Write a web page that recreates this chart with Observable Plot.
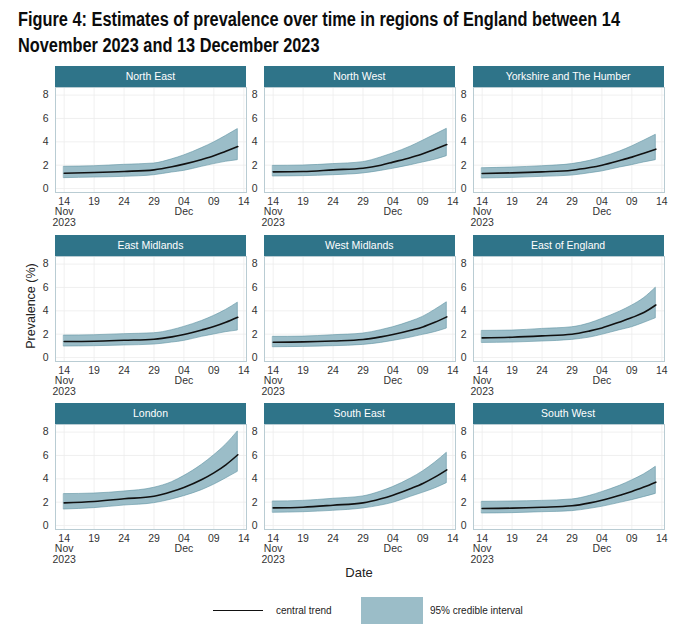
<!DOCTYPE html>
<html>
<head>
<meta charset="utf-8">
<script src="https://cdn.jsdelivr.net/npm/d3@7"></script>
<script src="https://cdn.jsdelivr.net/npm/@observablehq/plot@0.6"></script>
<style>
  html, body { margin: 0; padding: 0; background: #fff; }
  #wrap { position: relative; width: 680px; height: 634px; overflow: hidden; font-family: "Liberation Sans", Arial, sans-serif; }
  #title { position: absolute; left: 18px; top: 6px; font-family: "Liberation Sans", Arial, sans-serif; font-weight: bold; font-size: 20px; line-height: 26px; color: #0b0c0c; white-space: nowrap; transform-origin: 0 0; }
  #title span { display: inline-block; }
  .strip { position: absolute; height: 21px; background: #2f7489; color: #fff; font-size: 10.5px; line-height: 21px; text-align: center; }
  .panel { position: absolute; }
  .lbl { position: absolute; color: #222; white-space: nowrap; }
</style>
</head>
<body>
<div id="wrap">
  <div id="title"><span id="t1">Figure 4: Estimates of prevalence over time in regions of England between 14</span><br><span id="t2">November 2023 and 13 December 2023</span></div>
</div>
<script>
// ---- data ----
const regions = ["North East","North West","Yorkshire and The Humber","East Midlands","West Midlands","East of England","London","South East","South West"];
const dates = ["2023-11-14","2023-11-19","2023-11-24","2023-11-29","2023-12-02","2023-12-04","2023-12-07","2023-12-09","2023-12-11","2023-12-13"];

const northEastMid   = [1.31,1.37,1.46,1.60,1.86,2.09,2.49,2.80,3.20,3.60];
const northEastLo    = [0.89,0.94,1.00,1.14,1.37,1.51,1.86,2.09,2.29,2.43];
const northEastHi    = [1.86,1.91,2.03,2.14,2.50,2.83,3.46,3.94,4.50,5.09];

const northWestMid   = [1.43,1.46,1.60,1.74,2.00,2.26,2.66,2.97,3.37,3.77];
const northWestLo    = [1.03,1.06,1.14,1.29,1.51,1.69,2.00,2.23,2.46,2.77];
const northWestHi    = [1.94,1.97,2.09,2.26,2.66,3.00,3.60,4.09,4.60,5.11];

const yorkshireMid   = [1.29,1.34,1.43,1.57,1.80,2.00,2.40,2.69,3.03,3.37];
const yorkshireLo    = [0.86,0.91,1.00,1.11,1.31,1.46,1.80,2.00,2.23,2.43];
const yorkshireHi    = [1.74,1.80,1.91,2.09,2.37,2.66,3.17,3.60,4.09,4.60];

const eastMidMid     = [1.37,1.40,1.48,1.57,1.77,1.97,2.36,2.65,3.02,3.45];
const eastMidLo      = [0.94,0.97,1.03,1.11,1.28,1.42,1.77,1.97,2.17,2.31];
const eastMidHi      = [1.88,1.91,2.00,2.08,2.34,2.62,3.13,3.56,4.07,4.70];

const westMidMid     = [1.31,1.34,1.42,1.54,1.77,1.97,2.34,2.62,3.02,3.48];
const westMidLo      = [0.88,0.91,0.97,1.08,1.25,1.42,1.71,1.94,2.17,2.48];
const westMidHi      = [1.77,1.79,1.91,2.05,2.34,2.59,3.08,3.48,4.07,4.73];

const eastEnglandMid = [1.68,1.74,1.85,1.99,2.28,2.53,3.05,3.42,3.85,4.50];
const eastEnglandLo  = [1.25,1.28,1.37,1.51,1.71,1.94,2.34,2.59,2.96,3.36];
const eastEnglandHi  = [2.28,2.31,2.45,2.59,2.93,3.30,3.93,4.44,5.07,5.98];

const londonMid      = [1.94,2.06,2.29,2.51,2.91,3.26,3.94,4.51,5.20,6.06];
const londonLo       = [1.37,1.49,1.71,1.91,2.23,2.51,3.03,3.49,4.03,4.60];
const londonHi       = [2.69,2.74,2.91,3.23,3.71,4.23,5.20,6.00,6.91,8.06];

const southEastMid   = [1.51,1.57,1.74,1.94,2.29,2.60,3.17,3.60,4.14,4.77];
const southEastLo    = [1.09,1.14,1.26,1.46,1.71,1.94,2.46,2.80,3.17,3.63];
const southEastHi    = [2.06,2.11,2.29,2.49,2.91,3.29,4.03,4.63,5.37,6.23];

const southWestMid   = [1.46,1.49,1.57,1.69,1.94,2.17,2.60,2.91,3.29,3.71];
const southWestLo    = [1.03,1.06,1.14,1.23,1.43,1.60,1.94,2.17,2.43,2.71];
const southWestHi    = [2.03,2.06,2.11,2.23,2.54,2.86,3.40,3.86,4.37,5.03];

const tickDates  = ["2023-11-14","2023-11-19","2023-11-24","2023-11-29","2023-12-04","2023-12-09","2023-12-14"];
const tickLabels = ["14\nNov\n2023","19","24","29","04\nDec","09","14"];
const yTicks = [0,2,4,6,8];

// ---- title fit ----
(function () {
  const t = document.getElementById("title");
  const w = document.getElementById("t1").getBoundingClientRect().width;
  const s = Math.min(1, 602 / w);
  t.style.transform = "scaleX(" + s + ")";
})();

// ---- build ----
const seriesMid = [northEastMid,northWestMid,yorkshireMid,eastMidMid,westMidMid,eastEnglandMid,londonMid,southEastMid,southWestMid];
const seriesLo  = [northEastLo,northWestLo,yorkshireLo,eastMidLo,westMidLo,eastEnglandLo,londonLo,southEastLo,southWestLo];
const seriesHi  = [northEastHi,northWestHi,yorkshireHi,eastMidHi,westMidHi,eastEnglandHi,londonHi,southEastHi,southWestHi];

const parse = s => new Date(s + "T00:00:00Z");
const dateObjs = dates.map(parse);
const tickObjs = tickDates.map(parse);
const labelMap = new Map(tickObjs.map((d, i) => [+d, tickLabels[i]]));
const DAY = 864e5;
const xDomain = [new Date(+dateObjs[0] - 1.45 * DAY), new Date(+dateObjs[dateObjs.length - 1] + 1.45 * DAY)];

const wrap = document.getElementById("wrap");
const frameW = 191, plotH = 105, stripH = 21;
const mL = 24, mR = 12, mB = 44, mT = 1;

regions.forEach((name, k) => {
  const c = k % 3, r = Math.floor(k / 3);
  const left = 55 + c * 208.8;
  const top = 66 + r * 168.5;

  const strip = document.createElement("div");
  strip.className = "strip";
  strip.style.left = left + "px";
  strip.style.top = top + "px";
  strip.style.width = frameW + "px";
  strip.textContent = name;
  wrap.appendChild(strip);

  const rows = dateObjs.map((d, i) => ({date: d, mid: seriesMid[k][i], lo: seriesLo[k][i], hi: seriesHi[k][i]}));

  const chart = Plot.plot({
    width: mL + frameW + mR,
    height: mT + plotH + mB,
    marginLeft: mL, marginRight: mR, marginTop: mT, marginBottom: mB,
    x: {type: "utc", domain: xDomain},
    y: {domain: [-0.34, 8.65]},
    style: {fontFamily: "'Liberation Sans', Arial, sans-serif", fontSize: "10.5px", color: "#333", background: "transparent", overflow: "visible"},
    marks: [
      Plot.ruleX(tickObjs, {stroke: "#ececec", strokeWidth: 0.8}),
      Plot.ruleY(yTicks, {stroke: "#ececec", strokeWidth: 0.8}),
      Plot.areaY(rows, {x: "date", y1: "lo", y2: "hi", fill: "#9bbdc8", stroke: "#5f93a3", strokeWidth: 0.6, curve: "monotone-x"}),
      Plot.lineY(rows, {x: "date", y: "mid", stroke: "#111", strokeWidth: 1.6, curve: "monotone-x"}),
      Plot.frame({stroke: "#b9ccd3", strokeWidth: 1}),
      Plot.axisX({ticks: tickObjs, tickFormat: d => labelMap.get(+d), tickSize: 0, tickPadding: 5, label: null, lineHeight: 1.0, fontSize: 10.5, fill: "#333"}),
      Plot.axisY({ticks: yTicks, tickSize: 0, tickPadding: 7, label: null, fontSize: 10.5, fill: "#333"})
    ]
  });
  chart.classList.add("panel");
  chart.style.left = (left - mL) + "px";
  chart.style.top = (top + stripH - mT) + "px";
  wrap.appendChild(chart);
});

// axis titles
const yl = document.createElement("div");
yl.className = "lbl";
yl.textContent = "Prevalence (%)";
yl.style.fontSize = "12.5px";
yl.style.left = "31px";
yl.style.top = "306px";
yl.style.transform = "translate(-50%, -50%) rotate(-90deg)";
wrap.appendChild(yl);

const xl = document.createElement("div");
xl.className = "lbl";
xl.textContent = "Date";
xl.style.fontSize = "13px";
xl.style.left = "359px";
xl.style.top = "572px";
xl.style.transform = "translate(-50%, -50%)";
wrap.appendChild(xl);

// legend
const legLine = document.createElement("div");
legLine.style.cssText = "position:absolute;left:213px;top:610px;width:50px;height:0;border-top:1.5px solid #111;";
wrap.appendChild(legLine);
const legT1 = document.createElement("div");
legT1.className = "lbl";
legT1.textContent = "central trend";
legT1.style.cssText += "font-size:10px;left:276px;top:604px;line-height:13px;";
wrap.appendChild(legT1);
const legSw = document.createElement("div");
legSw.style.cssText = "position:absolute;left:361px;top:597px;width:62px;height:27px;background:#9bbdc8;";
wrap.appendChild(legSw);
const legT2 = document.createElement("div");
legT2.className = "lbl";
legT2.textContent = "95% credible interval";
legT2.style.cssText += "font-size:10px;left:430px;top:604px;line-height:13px;";
wrap.appendChild(legT2);
</script>
</body>
</html>
